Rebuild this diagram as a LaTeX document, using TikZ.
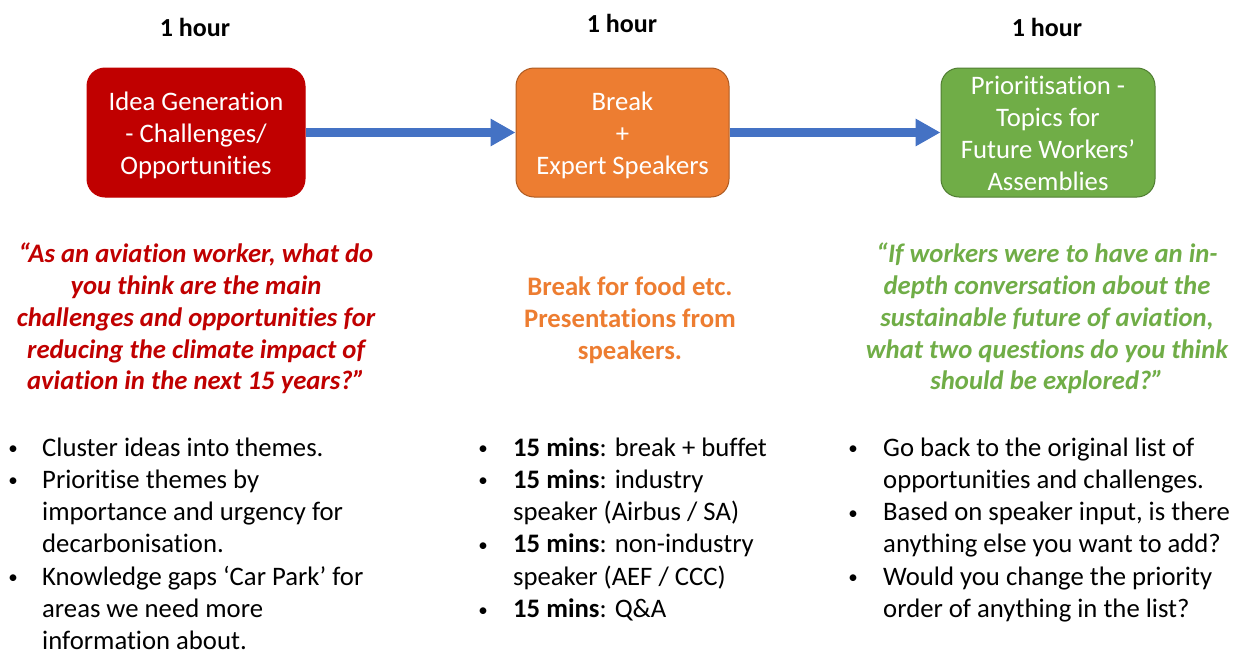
\documentclass[tikz,border=0pt]{standalone}
\usepackage{fontspec}
\setmainfont[Ligatures={NoCommon}]{Carlito}
\usetikzlibrary{arrows.meta}
\definecolor{cred}{HTML}{C00000}
\definecolor{corange}{HTML}{ED7D31}
\definecolor{corangeb}{HTML}{AE5A21}
\definecolor{cgreen}{HTML}{70AD47}
\definecolor{cgreenb}{HTML}{507E32}
\definecolor{cblue}{HTML}{4472C4}
\newcommand{\bul}{\raisebox{1.5pt}{\fontsize{19pt}{19pt}\selectfont •}}
\begin{document}
\begin{tikzpicture}[x=1pt,y=-1pt,
  font=\fontsize{26.7pt}{32pt}\selectfont,
  box/.style={rounded corners=18pt, minimum height=129pt, line width=1pt, inner sep=0pt},
  boxtext/.style={text=white, align=center, inner sep=0pt},
  ln/.style={inner sep=0pt, anchor=base},
  lnl/.style={inner sep=0pt, anchor=base west},
  hour/.style={ln, font=\fontsize{26pt}{30pt}\selectfont\bfseries},
  quote/.style={ln, font=\fontsize{26.7pt}{32pt}\selectfont\bfseries\itshape},
  flow/.style={draw=cblue, line width=9pt, -{Triangle[length=25pt,width=26pt]}}
]
\useasboundingbox (0,0) rectangle (1242,653);

% time labels
\node[hour] (h1) at (195,36) {1 hour};
\node[hour] (h2) at (622,32) {1 hour};
\node[hour] (h3) at (1047,36) {1 hour};

% boxes
\node[box, fill=cred, draw=cred, minimum width=218pt] (idea) at (196,132.5) {};
\node[box, fill=corange, draw=corangeb, minimum width=213pt] (brk) at (622.5,132.5) {};
\node[box, fill=cgreen, draw=cgreenb, minimum width=214pt] (prio) at (1048,132.5) {};
\node[boxtext] (ideat) at ([yshift=-3pt]idea.center) {Idea Generation\\- Challenges/\\Opportunities};
\node[boxtext] (brkt) at ([yshift=-3pt]brk.center) {Break\\+\\Expert Speakers};
\node[boxtext] (priot) at ([yshift=-1pt]prio.center) {Prioritisation -\\Topics for\\Future Workers’\\Assemblies};

% arrows
\draw[flow] (idea.east) -- (brk.west);
\draw[flow] (brk.east) -- (prio.west);

% red question
\begin{scope}[text=cred]
\node[quote] (q1a) at (196,262) {“As an aviation worker, what do};
\node[quote] (q1b) at (196,294) {you think are the main};
\node[quote] (q1c) at (196,326) {challenges and opportunities for};
\node[quote] (q1d) at (196,358) {reducing the climate impact of};
\node[quote] (q1e) at (196,389.5) {aviation in the next 15 years?”};
\end{scope}

% orange text
\begin{scope}[text=corange, font=\fontsize{26.7pt}{32pt}\selectfont\bfseries]
\node[ln] (q2a) at (630,295) {Break for food etc.};
\node[ln] (q2b) at (630,327) {Presentations from};
\node[ln] (q2c) at (630,359) {speakers.};
\end{scope}

% green question
\begin{scope}[text=cgreen]
\node[quote] (q3a) at (1047,262) {“If workers were to have an in-};
\node[quote] (q3b) at (1047,294) {depth conversation about the};
\node[quote] (q3c) at (1047,326) {sustainable future of aviation,};
\node[quote] (q3d) at (1047,358) {what two questions do you think};
\node[quote] (q3e) at (1047,389.5) {should be explored?”};
\end{scope}

% left list
\node[ln] (lb1) at (13,456) {\bul};
\node[lnl] (l1) at (42,456) {Cluster ideas into themes.};
\node[ln] (lb2) at (13,488.3) {\bul};
\node[lnl] (l2) at (42,488.3) {Prioritise themes by};
\node[lnl] (l3) at (42,520.6) {importance and urgency for};
\node[lnl] (l4) at (42,552.9) {decarbonisation.};
\node[ln] (lb3) at (13,585.2) {\bul};
\node[lnl] (l5) at (42,585.2) {Knowledge gaps ‘Car Park’ for};
\node[lnl] (l6) at (42,617.5) {areas we need more};
\node[lnl] (l7) at (42,649) {information about.};

% middle list
\node[ln] (mb1) at (483,456) {\bul};
\node[lnl] (m1) at (513,456) {\textbf{15 mins}: break + buffet};
\node[ln] (mb2) at (483,488.3) {\bul};
\node[lnl] (m2) at (513,488.3) {\textbf{15 mins}: industry};
\node[lnl] (m3) at (513,520.6) {speaker (Airbus / SA)};
\node[ln] (mb3) at (483,552.9) {\bul};
\node[lnl] (m4) at (513,552.9) {\textbf{15 mins}: non-industry};
\node[lnl] (m5) at (513,585.2) {speaker (AEF / CCC)};
\node[ln] (mb4) at (483,617.5) {\bul};
\node[lnl] (m6) at (513,617.5) {\textbf{15 mins}: Q\&A};

% right list
\node[ln] (rb1) at (853,456) {\bul};
\node[lnl] (r1) at (883,456) {Go back to the original list of};
\node[lnl] (r2) at (883,488.3) {opportunities and challenges.};
\node[ln] (rb2) at (853,520.6) {\bul};
\node[lnl] (r3) at (883,520.6) {Based on speaker input, is there};
\node[lnl] (r4) at (883,552.9) {anything else you want to add?};
\node[ln] (rb3) at (853,585.2) {\bul};
\node[lnl] (r5) at (883,585.2) {Would you change the priority};
\node[lnl] (r6) at (883,617.5) {order of anything in the list?};
\end{tikzpicture}
\end{document}
